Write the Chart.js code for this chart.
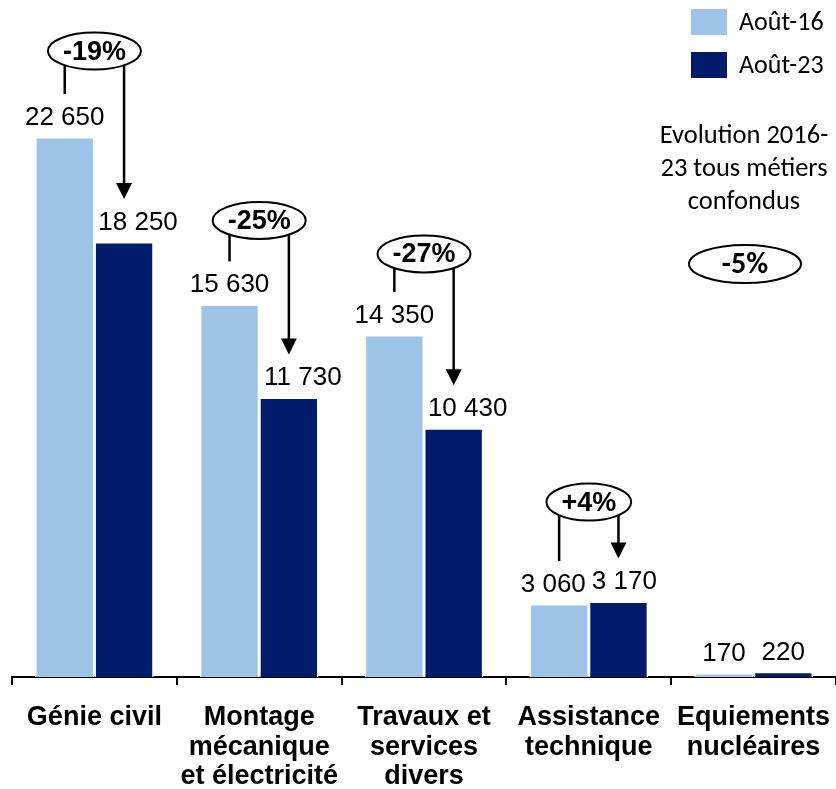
<!DOCTYPE html>
<html lang="fr">
<head>
  <meta charset="UTF-8" />
  <title>Août-16 / Août-23</title>
  <script src="https://cdn.jsdelivr.net/npm/chart.js"></script>
  <style>
    body { margin: 0; background: #fff; }
    canvas { display: block; }
  </style>
</head>
<body>
  <canvas id="chart" width="836" height="789"></canvas>

  <script>
    // data
    const categories = [
      ['Génie civil'],
      ['Montage', 'mécanique', 'et électricité'],
      ['Travaux et', 'services', 'divers'],
      ['Assistance', 'technique'],
      ['Equiements', 'nucléaires']
    ];
    const seriesNames = ['Août-16', 'Août-23'];
    const aout16 = [22650, 15630, 14350, 3060, 170];
    const aout23 = [18250, 11730, 10430, 3170, 220];
    const evolution = ['-19%', '-25%', '-27%', '+4%', null];
    const noteLines = ['Evolution 2016-', '23 tous métiers', 'confondus'];
    const totalEvolution = '-5%';

    const LIGHT = '#9dc3e6';
    const DARK = '#021b6b';
    const ARIAL = '"Liberation Sans", Arial, sans-serif';
    const CALIBRI = 'Carlito, Lato, sans-serif';

    // how far above the light bar each bubble sits
    const bubbleLift = [86, 84, 81, 102];

    const fmt = v => String(v).replace(/\B(?=(\d{3})+(?!\d))/g, ' ');

    function ellipse(ctx, cx, cy, rx, ry) {
      ctx.beginPath();
      ctx.ellipse(cx, cy, rx, ry, 0, 0, Math.PI * 2);
      ctx.fillStyle = '#fff';
      ctx.fill();
      ctx.lineWidth = 2;
      ctx.strokeStyle = '#000';
      ctx.stroke();
    }

    const decorations = {
      id: 'decorations',
      afterDatasetsDraw(chart) {
        const ctx = chart.ctx;
        const x = chart.scales.x;
        const m16 = chart.getDatasetMeta(0).data;
        const m23 = chart.getDatasetMeta(1).data;
        ctx.save();

        // value labels: side by side pairs get pushed apart,
        // lower dark labels move right of the arrow tip
        ctx.fillStyle = '#000';
        ctx.font = '26px ' + ARIAL;
        ctx.textAlign = 'center';
        ctx.textBaseline = 'alphabetic';
        m16.forEach((a, i) => {
          const b = m23[i];
          const t1 = fmt(aout16[i]), t2 = fmt(aout23[i]);
          const w1 = ctx.measureText(t1).width, w2 = ctx.measureText(t2).width;
          let s1 = 0, s2 = 0;
          if (Math.abs(a.y - b.y) < 30) {
            const overlap = (a.x + w1 / 2 + 6) - (b.x - w2 / 2);
            if (overlap > 0) { s1 = -overlap / 2; s2 = overlap / 2; }
          } else if (evolution[i]) {
            s2 = 14;
          }
          ctx.fillText(t1, a.x + s1, a.y - 12);
          ctx.fillText(t2, b.x + s2, b.y - 12);
        });

        // evolution bubbles + arrows
        evolution.forEach((txt, i) => {
          if (!txt) return;
          const a = m16[i], b = m23[i];
          const cx = x.getPixelForValue(i);
          const cy = a.y - bubbleLift[i];
          ctx.font = 'bold 27px ' + ARIAL;
          const rx = ctx.measureText(txt).width / 2 + 15;
          const ry = 18.5;
          const edge = dx => cy + ry * Math.sqrt(Math.max(0, 1 - (dx / rx) ** 2));

          ctx.strokeStyle = '#000';
          ctx.lineWidth = 2.5;
          ctx.beginPath();
          ctx.moveTo(a.x, edge(a.x - cx));
          ctx.lineTo(a.x, a.y - 43);
          ctx.stroke();

          const tip = b.y - 43;
          ctx.beginPath();
          ctx.moveTo(b.x, edge(b.x - cx));
          ctx.lineTo(b.x, tip - 14);
          ctx.stroke();
          ctx.beginPath();
          ctx.moveTo(b.x - 8, tip - 16);
          ctx.lineTo(b.x + 8, tip - 16);
          ctx.lineTo(b.x, tip);
          ctx.closePath();
          ctx.fillStyle = '#000';
          ctx.fill();

          ellipse(ctx, cx, cy, rx, ry);
          ctx.fillStyle = '#000';
          ctx.textBaseline = 'middle';
          ctx.fillText(txt, cx, cy + 1);
          ctx.textBaseline = 'alphabetic';
        });

        // legend
        const colors = [LIGHT, DARK];
        ctx.font = '26px ' + CALIBRI;
        ctx.textAlign = 'left';
        ctx.textBaseline = 'middle';
        seriesNames.forEach((name, k) => {
          ctx.fillStyle = colors[k];
          ctx.fillRect(691, 9 + k * 43, 36, 26);
          ctx.fillStyle = '#000';
          ctx.fillText(name, 739, 23 + k * 43);
        });

        // overall note
        ctx.textAlign = 'center';
        ctx.font = '26.5px ' + CALIBRI;
        noteLines.forEach((l, k) => ctx.fillText(l, 744, 136 + k * 33));
        ellipse(ctx, 745, 264, 56, 19);
        ctx.fillStyle = '#000';
        ctx.font = 'bold 30px ' + CALIBRI;
        ctx.fillText(totalEvolution, 745, 265);

        ctx.restore();
      }
    };

    new Chart(document.getElementById('chart'), {
      type: 'bar',
      data: {
        labels: categories,
        datasets: [
          { label: seriesNames[0], data: aout16, backgroundColor: LIGHT },
          { label: seriesNames[1], data: aout23, backgroundColor: DARK }
        ]
      },
      options: {
        responsive: false,
        animation: false,
        layout: { padding: { left: 12, right: 0, top: 0, bottom: 0 } },
        datasets: {
          bar: {
            categoryPercentage: 0.72,
            barPercentage: 1,
            borderWidth: 1.5,
            borderColor: '#fff'
          }
        },
        plugins: {
          legend: { display: false },
          tooltip: { enabled: false }
        },
        scales: {
          x: {
            afterFit: s => {
              s.height = 112;
              s.paddingLeft = 0;
              s.paddingRight = 0;
            },
            grid: {
              display: true,
              drawOnChartArea: false,
              tickLength: 8,
              color: '#000',
              lineWidth: 2
            },
            border: { display: true, color: '#000', width: 2 },
            ticks: {
              color: '#000',
              padding: 18,
              maxRotation: 0,
              autoSkip: false,
              font: { family: ARIAL, size: 27, weight: 'bold', lineHeight: 1.09 }
            }
          },
          y: {
            display: false,
            min: 0,
            max: 28400
          }
        }
      },
      plugins: [decorations]
    });
  </script>
</body>
</html>
